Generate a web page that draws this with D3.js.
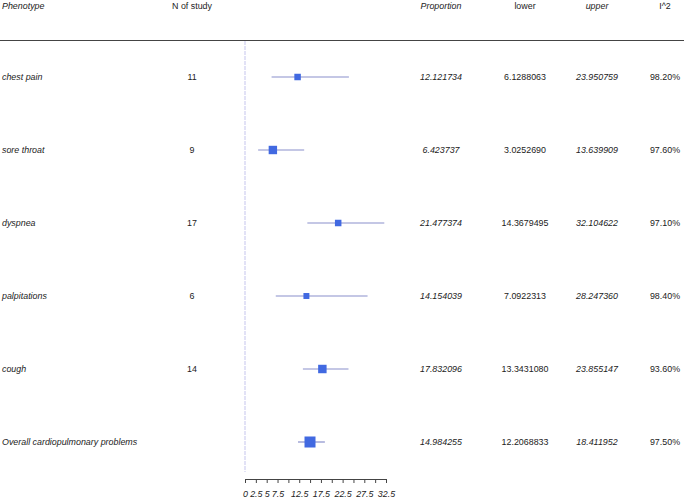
<!DOCTYPE html>
<html>
<head>
<meta charset="utf-8">
<script src="https://cdn.jsdelivr.net/npm/d3@7"></script>
<style>
  body { margin: 0; background: #fff; }
  text { font-family: "Liberation Sans", Arial, sans-serif; font-size: 8.9px; fill: #222; }
</style>
</head>
<body>
<div id="container"></div>
<script>
// values
let phenotypes = ["chest pain", "sore throat", "dyspnea", "palpitations", "cough", "Overall cardiopulmonary problems"];
let nStudy = ["11", "9", "17", "6", "14", ""];
let proportion = [12.121734, 6.423737, 21.477374, 14.154039, 17.832096, 14.984255];
let lower = [6.1288063, 3.0252690, 14.3679495, 7.0922313, 13.3431080, 12.2068833];
let upper = [23.950759, 13.639909, 32.104622, 28.247360, 23.855147, 18.411952];
let i2 = ["98.20%", "97.60%", "97.10%", "98.40%", "93.60%", "97.50%"];
let propLabels = ["12.121734", "6.423737", "21.477374", "14.154039", "17.832096", "14.984255"];
let lowerLabels = ["6.1288063", "3.0252690", "14.3679495", "7.0922313", "13.3431080", "12.2068833"];
let upperLabels = ["23.950759", "13.639909", "32.104622", "28.247360", "23.855147", "18.411952"];
let tickValues = [0, 2.5, 5, 7.5, 10, 12.5, 15, 17.5, 20, 22.5, 25, 27.5, 30, 32.5];
let hiddenTicks = [10, 15, 20, 25, 30];

let w = 685;
let h = 499;

let svg = d3.select("#container")
  .append("svg")
  .attr("width", w)
  .attr("height", h);

let x = d3.scaleLinear().domain([0, 32.5]).range([245, 386]);
let y = d3.scalePoint().domain(phenotypes).range([77, 442]);

// box size from precision (1 / CI width)
let prec = phenotypes.map((p, i) => 1 / (upper[i] - lower[i]));
let size = d3.scaleSqrt().domain([0, d3.max(prec)]).range([0, 11]);

// header
let cols = [
  {x: 2, anchor: "start", italic: true, title: "Phenotype"},
  {x: 192, anchor: "middle", italic: false, title: "N of study"},
  {x: 441, anchor: "middle", italic: true, title: "Proportion"},
  {x: 525, anchor: "middle", italic: false, title: "lower"},
  {x: 597, anchor: "middle", italic: true, title: "upper"},
  {x: 665, anchor: "middle", italic: false, title: "I^2"}
];

svg.selectAll(".head")
  .data(cols)
  .enter()
  .append("text")
  .attr("x", d => d.x)
  .attr("y", 9)
  .attr("text-anchor", d => d.anchor)
  .style("font-style", d => d.italic ? "italic" : "normal")
  .text(d => d.title);

svg.append("line")
  .attr("x1", 0).attr("x2", 684)
  .attr("y1", 40.5).attr("y2", 40.5)
  .attr("stroke", "#444")
  .attr("stroke-width", 1.2);

// reference line at 0
svg.append("line")
  .attr("x1", x(0)).attr("x2", x(0))
  .attr("y1", 41).attr("y2", 472)
  .attr("stroke", "#e2e2f6")
  .attr("stroke-width", 2)
  .attr("stroke-dasharray", "4,1");

// table columns
let colData = [nStudy, propLabels, lowerLabels, upperLabels, i2];
phenotypes.forEach((p, i) => {
  let yy = y(p) + 3;
  svg.append("text")
    .attr("x", cols[0].x).attr("y", yy)
    .style("font-style", "italic")
    .text(p);
  colData.forEach((arr, j) => {
    let c = cols[j + 1];
    svg.append("text")
      .attr("x", c.x).attr("y", yy)
      .attr("text-anchor", "middle")
      .style("font-style", c.italic ? "italic" : "normal")
      .text(arr[i]);
  });
});

// CI lines
svg.selectAll(".ci")
  .data(phenotypes)
  .enter()
  .append("line")
  .attr("x1", (d, i) => x(lower[i]))
  .attr("x2", (d, i) => x(upper[i]))
  .attr("y1", d => y(d))
  .attr("y2", d => y(d))
  .attr("stroke", "#8990cc")
  .attr("stroke-width", 1.2);

// boxes
svg.selectAll(".box")
  .data(phenotypes)
  .enter()
  .append("rect")
  .attr("x", (d, i) => x(proportion[i]) - size(prec[i]) / 2)
  .attr("y", (d, i) => y(d) - size(prec[i]) / 2)
  .attr("width", (d, i) => size(prec[i]))
  .attr("height", (d, i) => size(prec[i]))
  .attr("fill", "royalblue");

// x axis
let axis = svg.append("g")
  .attr("transform", "translate(0,479)")
  .call(d3.axisBottom(x)
    .tickValues(tickValues)
    .tickSize(4)
    .tickFormat(d => hiddenTicks.includes(d) ? "" : d3.format("")(d)));

axis.select(".domain").attr("stroke", "#444");
axis.selectAll(".tick line").attr("stroke", "#444");
axis.selectAll("text")
  .style("font-style", "italic")
  .style("font-family", "'Liberation Sans', Arial, sans-serif")
  .style("font-size", "8.9px")
  .attr("fill", "#222")
  .attr("dy", "1.25em");
</script>
</body>
</html>
